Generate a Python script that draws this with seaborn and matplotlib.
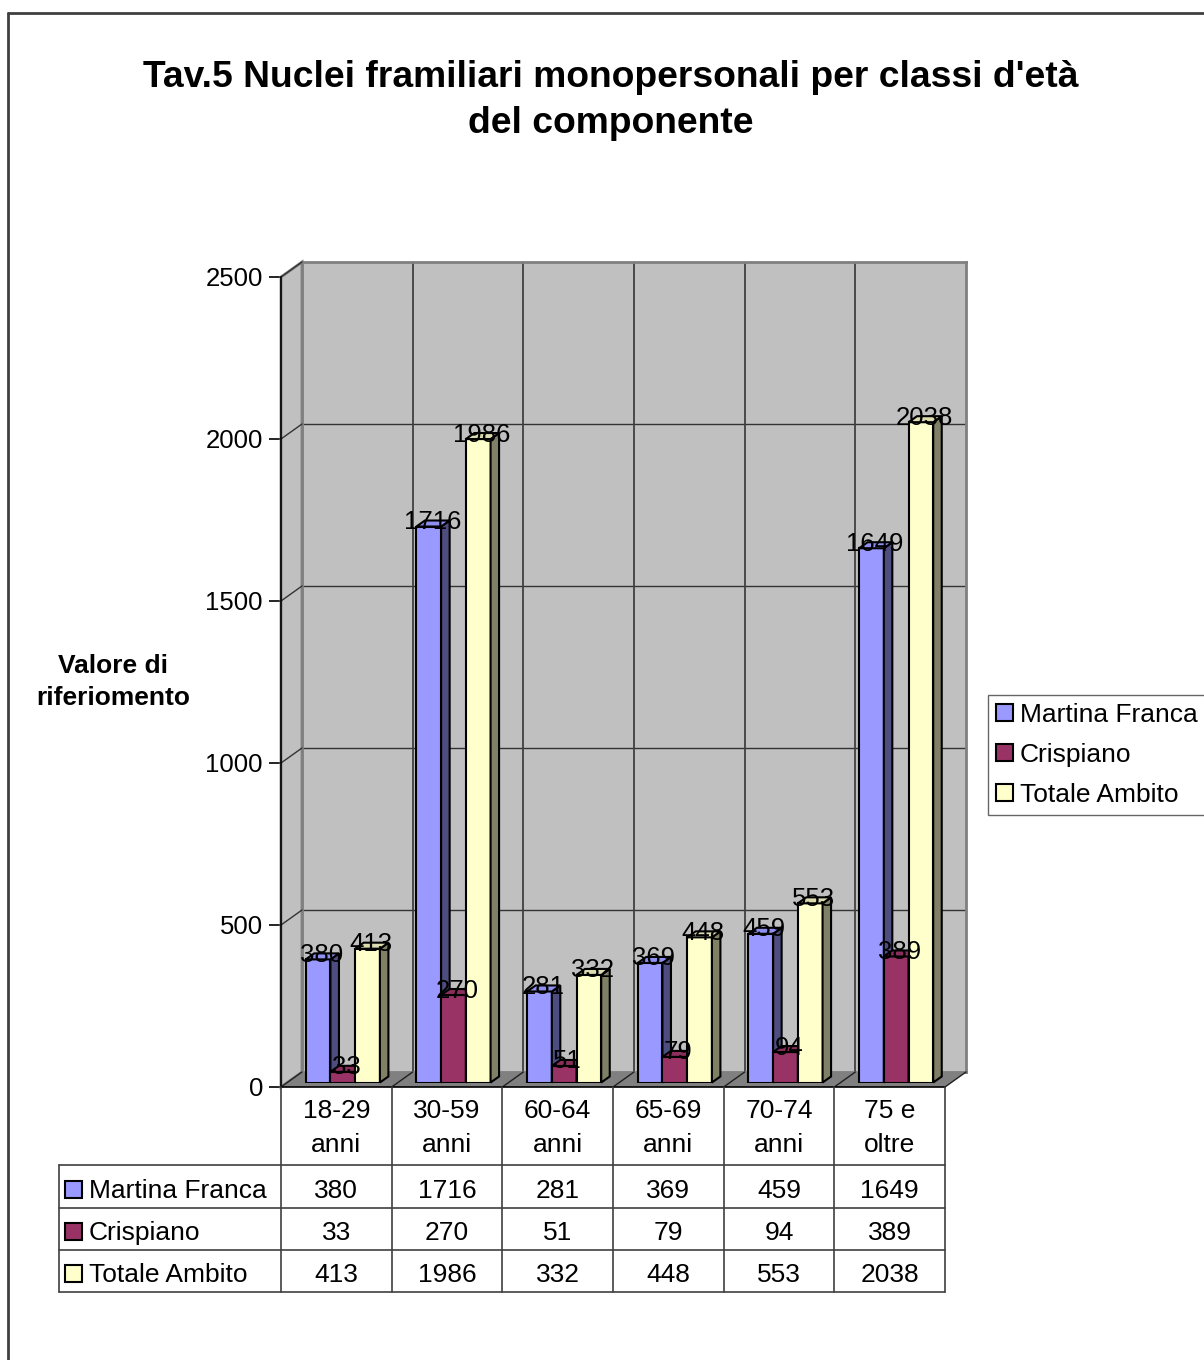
import numpy as np
import pandas as pd
import seaborn as sns
import matplotlib
matplotlib.use("Agg")
import matplotlib.pyplot as plt
import matplotlib.transforms as mtransforms
from matplotlib.patches import Polygon, Rectangle, Patch
from matplotlib.lines import Line2D

# ---- data -------------------------------------------------------------
categories = ["18-29\nanni", "30-59\nanni", "60-64\nanni", "65-69\nanni", "70-74\nanni", "75 e\noltre"]
series_names = ["Martina Franca", "Crispiano", "Totale Ambito"]
martina_franca = [380, 1716, 281, 369, 459, 1649]
crispiano = [33, 270, 51, 79, 94, 389]
totale_ambito = [413, 1986, 332, 448, 553, 2038]
y_ticks = [0, 500, 1000, 1500, 2000, 2500]

title_lines = ["Tav.5 Nuclei framiliari monopersonali per classi d'età", "del componente"]
y_label = "Valore di\nriferiomento"

# ---- styles -----------------------------------------------------------
front_colors = ["#9999FF", "#993366", "#FFFFCC"]
side_colors = ["#4D4D80", "#4D1A33", "#808066"]
top_colors = ["#8F8FF0", "#8A2E5C", "#DCDCB0"]
WALL = "#C0C0C0"
FLOOR = "#808080"
FS = 19

W, H = 1204, 1360
sns.set_style("white")
plt.rcParams["font.family"] = ["Liberation Sans", "DejaVu Sans"]
for key in ["text.color", "axes.labelcolor", "xtick.color", "ytick.color",
            "xtick.labelcolor", "ytick.labelcolor"]:
    plt.rcParams[key] = "black"

fig = plt.figure(figsize=(W / 100, H / 100), dpi=100)
pxT = mtransforms.Affine2D().scale(1 / W, -1 / H).translate(0, 1) + fig.transFigure


def rect(x0, y0, x1, y1):
    return [x0 / W, 1 - y1 / H, (x1 - x0) / W, (y1 - y0) / H]


# front plane of the 3D box (pixels), depth of walls and bars
FX0, FY0, FX1, FY1 = 281, 277, 945, 1087
WALL_D = (21, 15)
BAR_OFF = (6.5, 4.5)
BAR_D = (8.5, 6)
YMAX = 2500
n = len(categories)
px_x = (FX1 - FX0) / n
px_y = (FY1 - FY0) / YMAX


def setup(ax):
    ax.set_xlim(-0.5, n - 0.5)
    ax.set_ylim(0, YMAX)


# back wall
ax_back = fig.add_axes(rect(FX0 + WALL_D[0], FY0 - WALL_D[1], FX1 + WALL_D[0], FY1 - WALL_D[1]))
setup(ax_back)
ax_back.set_facecolor(WALL)
ax_back.set_xticks([])
ax_back.set_yticks([])
for s in ax_back.spines.values():
    s.set_color("#808080")
    s.set_linewidth(2)
for t in y_ticks[1:-1]:
    ax_back.axhline(t, color="#333333", lw=1)
for k in range(1, n):
    ax_back.axvline(k - 0.5, color="#404040", lw=1.3)
ax_back.set_zorder(0)

# front frame: y axis, side wall, floor
ax = fig.add_axes(rect(FX0, FY0, FX1, FY1))
setup(ax)
ax.patch.set_visible(False)
ax.set_zorder(1)
for side in ["top", "right"]:
    ax.spines[side].set_visible(False)
for side in ["left", "bottom"]:
    ax.spines[side].set_linewidth(1.2)
    ax.spines[side].set_color("black")
ax.spines["left"].set_zorder(5)
ax.set_xticks([])
ax.set_yticks(y_ticks)
ax.tick_params(axis="y", direction="out", length=9, width=1.2, pad=4, labelsize=18.5,
               left=True, colors="black")

bdx = WALL_D[0] / px_x
bdy = WALL_D[1] / px_y
ax.add_patch(Polygon([(-0.5, 0), (-0.5, YMAX), (-0.5 + bdx, YMAX + bdy), (-0.5 + bdx, bdy)],
                     closed=True, fc=WALL, ec="#808080", lw=2, clip_on=False, zorder=1))
for t in y_ticks[1:]:
    ax.add_line(Line2D([-0.5, -0.5 + bdx], [t, t + bdy], color="#333333", lw=1, clip_on=False, zorder=2))
ax.add_patch(Polygon([(-0.5, 0), (n - 0.5, 0), (n - 0.5 + bdx, bdy), (-0.5 + bdx, bdy)],
                     closed=True, fc=FLOOR, ec="none", clip_on=False, zorder=1))
for k in range(0, n + 1):
    ax.add_line(Line2D([k - 0.5, k - 0.5 + bdx], [0, bdy], color="#202020", lw=1, clip_on=False, zorder=2))

# bars
ax_bars = fig.add_axes(rect(FX0 + BAR_OFF[0], FY0 - BAR_OFF[1], FX1 + BAR_OFF[0], FY1 - BAR_OFF[1]))
ax_bars.patch.set_visible(False)
ax_bars.set_zorder(2)

values = [martina_franca, crispiano, totale_ambito]
df = pd.DataFrame({
    "Classe": categories * len(series_names),
    "Serie": [s for s in series_names for _ in categories],
    "Valore": [v for vals in values for v in vals],
})
sns.barplot(data=df, x="Classe", y="Valore", hue="Serie", hue_order=series_names,
            palette=front_colors, saturation=1, width=0.67, gap=0, errorbar=None,
            edgecolor="black", linewidth=1.5, legend=False, ax=ax_bars)
setup(ax_bars)
ax_bars.axis("off")

ddx = BAR_D[0] / px_x
ddy = BAR_D[1] / px_y
lbl_off = mtransforms.ScaledTranslation(3.5 / 100, -2.5 / 100, fig.dpi_scale_trans)
bars = list(ax_bars.patches)
for h, vals in enumerate(values):
    for c, v in enumerate(vals):
        p = bars[h * n + c]
        rank = c * 3 + h
        z = 2 + rank
        p.set_zorder(z)
        x0 = p.get_x()
        x1 = x0 + p.get_width()
        top = p.get_height()
        ax_bars.add_patch(Polygon([(x1, 0), (x1 + ddx, ddy), (x1 + ddx, top + ddy), (x1, top)],
                                  closed=True, fc=side_colors[h], ec="black", lw=1.5,
                                  clip_on=False, zorder=z + 0.3))
        ax_bars.add_patch(Polygon([(x0, top), (x1, top), (x1 + ddx, top + ddy), (x0 + ddx, top + ddy)],
                                  closed=True, fc=top_colors[h], ec="black", lw=1.5,
                                  clip_on=False, zorder=z + 0.3))
        ax_bars.text((x0 + x1) / 2, v, f"{v}", ha="center", va="baseline", fontsize=18.5,
                     color="black", transform=ax_bars.transData + lbl_off, zorder=100, clip_on=False)

# data table below the chart
col_x = [FX0 + k * px_x for k in range(n + 1)]
row_y = [FY1, 1165, 1208, 1250, 1292]
TL = 59
line_kw = dict(color="#404040", lw=1.2, transform=pxT)
for xk in col_x:
    fig.add_artist(Line2D([xk, xk], [row_y[0], row_y[-1]], **line_kw))
fig.add_artist(Line2D([TL, TL], [row_y[1], row_y[-1]], **line_kw))
for yk in row_y[1:]:
    fig.add_artist(Line2D([TL, col_x[-1]], [yk, yk], **line_kw))

for c, cat in enumerate(categories):
    cx = (col_x[c] + col_x[c + 1]) / 2
    fig.text(cx, (row_y[0] + row_y[1]) / 2 + 2, cat, ha="center", va="center", fontsize=FS,
             linespacing=1.5, transform=pxT)
for h, (name, vals) in enumerate(zip(series_names, values)):
    cy = (row_y[h + 1] + row_y[h + 2]) / 2 + 3
    fig.add_artist(Rectangle((65, cy - 9), 17, 17, fc=front_colors[h], ec="black", lw=1.5, transform=pxT))
    fig.text(89, cy + 1, name, ha="left", va="center", fontsize=FS, transform=pxT)
    for c, v in enumerate(vals):
        cx = (col_x[c] + col_x[c + 1]) / 2
        fig.text(cx, cy + 1, f"{v}", ha="center", va="center", fontsize=FS, transform=pxT)

# titles
fig.text(611, 87, title_lines[0], ha="center", va="baseline", fontsize=26.8, fontweight="bold", transform=pxT)
fig.text(611, 133, title_lines[1], ha="center", va="baseline", fontsize=26.8, fontweight="bold", transform=pxT)
fig.text(113, 682, y_label, ha="center", va="center", multialignment="center", fontsize=19,
         fontweight="bold", linespacing=1.45, transform=pxT)

# legend
handles = [Patch(fc=col, ec="black", lw=1.5, label=name) for col, name in zip(front_colors, series_names)]
leg = fig.legend(handles=handles, loc="upper left", bbox_to_anchor=(988 / W, 1 - 695 / H),
                 bbox_transform=fig.transFigure, frameon=True, fancybox=False, fontsize=FS,
                 handlelength=0.65, handleheight=0.65, handletextpad=0.25, borderpad=0.3,
                 labelspacing=0.6, borderaxespad=0)
leg.get_frame().set_edgecolor("#404040")
leg.get_frame().set_linewidth(1)
for t in leg.get_texts():
    t.set_color("black")

# outer border of the chart area
fig.add_artist(Line2D([8, 8], [13, H], color="#404040", lw=2, transform=pxT))
fig.add_artist(Line2D([8, W], [13, 13], color="#404040", lw=2, transform=pxT))

fig.savefig("out.png", dpi=100)
